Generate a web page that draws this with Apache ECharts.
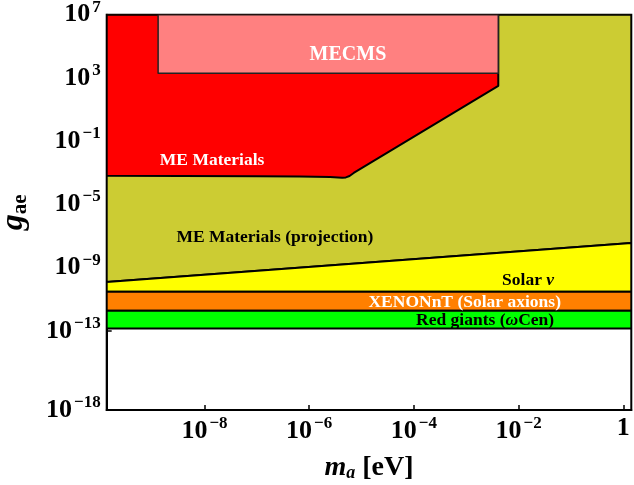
<!DOCTYPE html>
<html><head><meta charset="utf-8">
<script src="https://cdn.jsdelivr.net/npm/echarts@6/dist/echarts.min.js"></script>
<style>html,body{margin:0;padding:0;background:#fff}#c{width:634px;height:485px}</style>
</head><body><div id="c"></div>
<script>
// ---- data (axion-electron coupling g_ae vs axion mass m_a [eV]) ----
const xExtent = [1.355e-10, 1.42];
const yExtent = [1e-18, 1e7];
const xTickValues = [1e-8, 1e-6, 1e-4, 1e-2, 1];
const yTickValues = [1e-18, 1e-13, 1e-9, 1e-5, 1e-1, 1e3, 1e7];

const redGiantsBand = [1.41e-13, 1.9e-12];
const xenonBand = [1.9e-12, 3.0e-11];
const solarNuX = [1.355e-10, 1.42];
const solarNuG = [1.26e-10, 3.63e-8];
const meMaterialsX = [1.355e-10, 1e-7, 6.61e-7, 2.51e-6, 3.55e-6, 4.27e-6, 5.01e-6, 5.89e-6, 7.08e-6, 4.09e-3, 4.09e-3];
const meMaterialsG = [6.46e-4, 6.17e-4, 5.89e-4, 5.37e-4, 5.01e-4, 4.84e-4, 5.13e-4, 6.31e-4, 9.77e-4, 316, 1e7];
const mecmsX = [1.3e-9, 4.09e-3];
const mecmsG = [2.0e3, 1e7];

const labelTexts = ['MECMS', 'ME Materials', 'ME Materials (projection)', 'Solar {i|ν}', 'XENONnT (Solar axions)', 'Red giants ({i|ω}Cen)'];

// ---- layout / style ----
const L = Math.log10;
const FONT = "'Liberation Serif', 'Times New Roman', serif";
const labelLayout = [
  { at: [-5.26, 4.45], color: '#fff', size: 20 },
  { at: [-7.855, -2.23], color: '#fff', size: 17.5 },
  { at: [-6.655, -7.1], color: '#000', size: 17.5 },
  { at: [-1.82, -9.8], color: '#000', size: 17.5 },
  { at: [-3.03, -11.18], color: '#fff', size: 17.5 },
  { at: [-2.64, -12.32], color: '#000', size: 17.5 }
];

const [x0, x1] = xExtent, [y0, y1] = yExtent;
const rect = (xs, gs) => [[xs[0], gs[0]], [xs[1], gs[0]], [xs[1], gs[1]], [xs[0], gs[1]]];
const regions = [
  { pts: [[x0, solarNuG[0]], [x1, solarNuG[1]], [x1, y1], [x0, y1]], fill: '#CCCC33', stroke: '#000', lw: 2 },
  { pts: [[x0, xenonBand[1]], [x1, xenonBand[1]], [x1, solarNuG[1]], [x0, solarNuG[0]]], fill: '#FFFF00', stroke: '#000', lw: 2 },
  { pts: rect([x0, x1], xenonBand), fill: '#FF8000', stroke: '#000', lw: 2 },
  { pts: rect([x0, x1], redGiantsBand), fill: '#00FF00', stroke: '#000', lw: 2 },
  { pts: [[x0, y1]].concat(meMaterialsX.map((x, i) => [x, meMaterialsG[i]])), fill: '#FF0000', stroke: '#000', lw: 2 },
  { pts: rect(mecmsX, mecmsG), fill: '#FF8080', stroke: '#222', lw: 1.5 }
];

const supLabel = (v) => {
  const e = Math.round(v);
  if (e === 0) return '{b|1}';
  return '{b|10}{s|' + (e < 0 ? '\u2212' + (-e) : e) + '}';
};
const tickRich = {
  b: { fontFamily: FONT, fontWeight: 'bold', fontSize: 26, color: '#000' },
  s: { fontFamily: FONT, fontWeight: 'bold', fontSize: 17, color: '#000', padding: [0, 0, 15, 2] }
};

const chart = echarts.init(document.getElementById('c'), null, { renderer: 'canvas' });
chart.setOption({
  animation: false,
  grid: { left: 106.7, right: 2.7, top: 14.7, bottom: 75, containLabel: false, outerBoundsMode: 'none',
          show: true, borderColor: '#000', borderWidth: 2, backgroundColor: '#fff' },
  xAxis: {
    type: 'value', min: L(x0), max: L(x1),
    splitLine: { show: false },
    axisLine: { show: true, onZero: false, lineStyle: { color: '#000', width: 2 } },
    axisTick: { show: true, inside: true, length: 5, lineStyle: { color: '#000', width: 1.5 }, customValues: xTickValues.map(L) },
    axisLabel: { margin: 5, customValues: xTickValues.map(L), formatter: supLabel, rich: tickRich },
    name: '{m|m}{a|a}{t| [eV]}', nameLocation: 'middle', nameGap: 44,
    nameTextStyle: { rich: {
      m: { fontFamily: FONT, fontWeight: 'bold', fontStyle: 'italic', fontSize: 28, color: '#000' },
      a: { fontFamily: FONT, fontWeight: 'bold', fontStyle: 'italic', fontSize: 18, color: '#000', padding: [10, 0, 0, 0] },
      t: { fontFamily: FONT, fontWeight: 'bold', fontSize: 28, color: '#000' }
    } }
  },
  yAxis: {
    type: 'value', min: L(y0), max: L(y1),
    splitLine: { show: false },
    axisLine: { show: true, onZero: false, lineStyle: { color: '#000', width: 2 } },
    axisTick: { show: true, inside: true, length: 5, lineStyle: { color: '#000', width: 1.5 }, customValues: yTickValues.map(L) },
    axisLabel: { margin: 6, customValues: yTickValues.map(L), formatter: supLabel, rich: tickRich },
    name: '{g|g}{s|ae}', nameLocation: 'middle', nameRotate: 90, nameGap: 76,
    nameTextStyle: { rich: {
      g: { fontFamily: FONT, fontWeight: 'bold', fontStyle: 'italic', fontSize: 32, color: '#000' },
      s: { fontFamily: FONT, fontWeight: 'bold', fontSize: 21, color: '#000', padding: [12, 0, 0, 0] }
    } }
  },
  series: [
    {
      type: 'custom', clip: true, z: 2,
      data: regions.map((r, i) => i),
      renderItem: (params, api) => {
        const r = regions[params.dataIndex];
        return {
          type: 'polygon',
          shape: { points: r.pts.map(p => api.coord([L(p[0]), L(p[1])])) },
          style: { fill: r.fill, stroke: r.stroke, lineWidth: r.lw, lineJoin: 'round' }
        };
      }
    },
    {
      type: 'custom', clip: false, z: 5,
      data: labelTexts.map((t, i) => i),
      renderItem: (params, api) => {
        const i = params.dataIndex, lay = labelLayout[i];
        const p = api.coord(lay.at);
        return {
          type: 'text', x: p[0], y: p[1],
          style: {
            text: labelTexts[i], fill: lay.color, fontFamily: FONT, fontWeight: 'bold', fontSize: lay.size,
            align: 'center', verticalAlign: 'middle',
            rich: { i: { fontFamily: FONT, fontWeight: 'bold', fontStyle: 'italic', fontSize: lay.size, fill: lay.color } }
          }
        };
      }
    }
  ]
});
</script>
</body></html>
